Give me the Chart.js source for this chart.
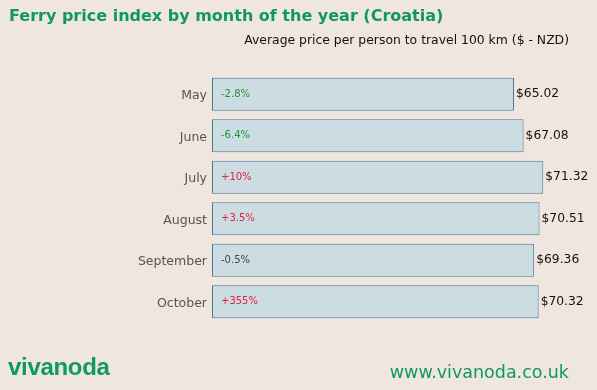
<!DOCTYPE html>
<html>
<head>
<meta charset="utf-8">
<script src="https://cdn.jsdelivr.net/npm/chart.js@4.4.1/dist/chart.umd.min.js"></script>
<style>
  html, body { margin: 0; padding: 0; background: #efe6e0; }
  #wrap { position: relative; width: 597px; height: 390px; overflow: hidden; font-family: "DejaVu Sans", sans-serif; }
  #chart { position: absolute; left: 0; top: 0; }
  .txt { position: absolute; white-space: nowrap; line-height: 1; }
  #title { left: 9px; top: 8px; font-size: 16px; font-weight: bold; color: #10995f; }
  #subtitle { right: 28px; top: 34px; font-size: 12.4px; color: #111; }
  #logo { left: 8px; top: 355px; font-family: "Liberation Sans", Arial, sans-serif; font-size: 24px; font-weight: bold; color: #0f9a5e; letter-spacing: -0.3px; }
  #site { right: 28px; top: 364px; font-size: 17.5px; color: #10995f; }
</style>
</head>
<body>
<div id="wrap">
  <canvas id="chart" width="597" height="390"></canvas>
  <div class="txt" id="title">Ferry price index by month of the year (Croatia)</div>
  <div class="txt" id="subtitle">Average price per person to travel 100 km ($ - NZD)</div>
  <div class="txt" id="logo">vivanoda</div>
  <div class="txt" id="site">www.vivanoda.co.uk</div>
</div>
<script>
const months = ["May", "June", "July", "August", "September", "October"];
const prices = [65.02, 67.08, 71.32, 70.51, 69.36, 70.32];
const changes = ["-2.8%", "-6.4%", "+10%", "+3.5%", "-0.5%", "+355%"];

// colour of the change label: green for drops, red for rises, grey for small
function changeColor(txt) {
  if (txt === "-0.5%") return "#444444";
  return txt.charAt(0) === "+" ? "#e3213a" : "#24913a";
}

const barLabels = {
  id: "barLabels",
  afterDatasetsDraw(chart) {
    const ctx = chart.ctx;
    const meta = chart.getDatasetMeta(0);
    ctx.save();
    ctx.textBaseline = "middle";
    meta.data.forEach((bar, i) => {
      // change inside the bar
      ctx.font = "10px 'DejaVu Sans'";
      ctx.fillStyle = changeColor(changes[i]);
      ctx.textAlign = "left";
      ctx.fillText(changes[i], bar.base + 9, bar.y);
      // price after the bar
      ctx.font = "12.3px 'DejaVu Sans'";
      ctx.fillStyle = "#111111";
      ctx.fillText("$" + prices[i].toFixed(2), bar.x + 2, bar.y);
    });
    ctx.restore();
  }
};

const config = {
  type: "bar",
  data: {
    labels: months,
    datasets: [{
      data: prices,
      backgroundColor: "#cbdde3",
      borderColor: "#4a7a90",
      borderWidth: 1,
      borderSkipped: false,
      barPercentage: 0.8,
      categoryPercentage: 1
    }]
  },
  options: {
    indexAxis: "y",
    responsive: false,
    animation: false,
    events: [],
    layout: { padding: { left: 0, right: 13.4, top: 73.5, bottom: 67.5 } },
    plugins: { legend: { display: false }, title: { display: false }, tooltip: { enabled: false } },
    scales: {
      x: { display: false, min: 0, max: 80 },
      y: {
        grid: { display: false, drawTicks: false },
        border: { display: false },
        ticks: { padding: 5, labelOffset: 1.5, color: "#555555", font: { family: "DejaVu Sans", size: 12.5 } },
        afterFit(scale) { scale.width = 212; }
      }
    }
  },
  plugins: [barLabels]
};

new Chart(document.getElementById("chart"), config);
</script>
</body>
</html>
